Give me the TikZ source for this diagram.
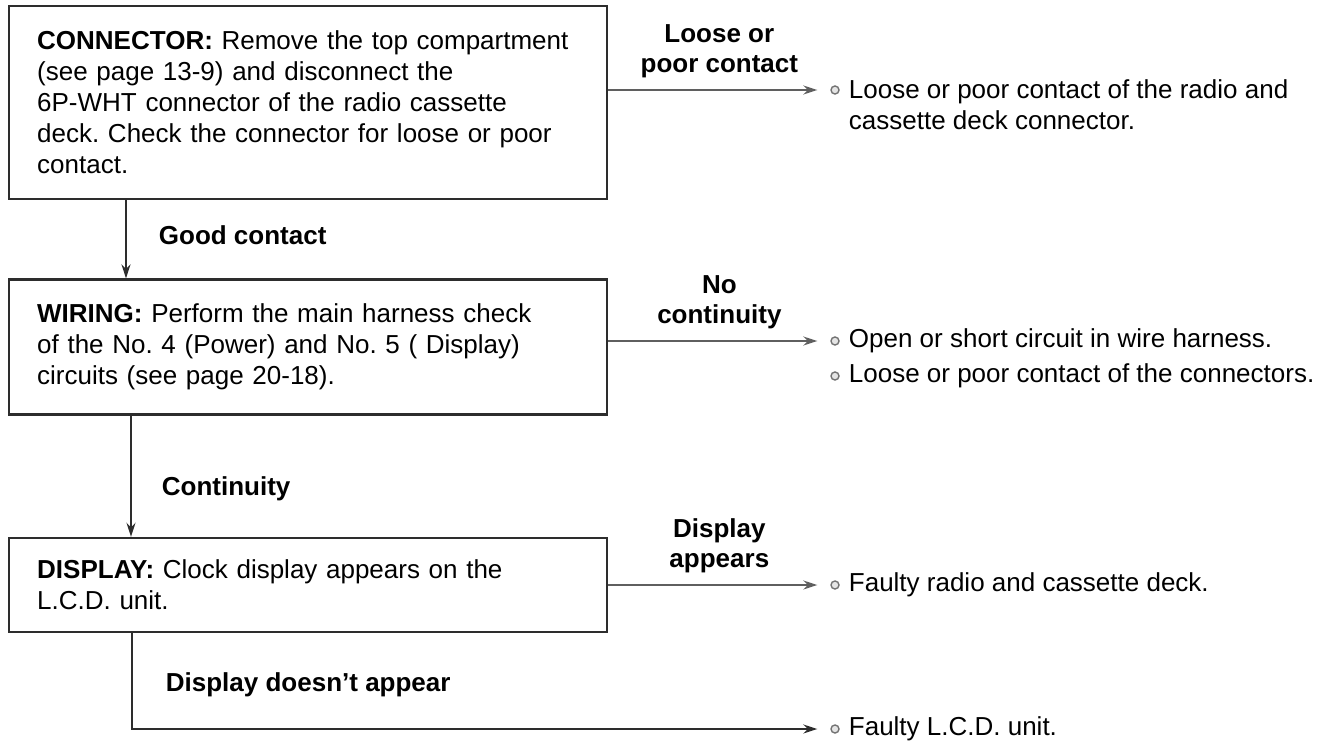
\documentclass[tikz,border=0pt]{standalone}
\usepackage{fontspec}
\setmainfont{Liberation Sans}
\usepackage{tikz}
\usetikzlibrary{arrows.meta, positioning}
\definecolor{inkgray}{RGB}{45,45,45}
\definecolor{wiregray}{RGB}{95,95,95}
\tikzset{
  chk/.style={draw=inkgray, line width=2.4pt, minimum width=598pt, text width=542pt, inner xsep=28pt, inner ysep=0pt, align=left},
  flow/.style={-{Stealth[length=14pt, width=9pt]}, line width=1.8pt, draw=inkgray},
  side/.style={flow, draw=wiregray, shorten >=13pt},
  dot/.style={circle, draw=black!55, fill=black!10, line width=1.4pt, inner sep=0pt, minimum size=8pt},
  lbl/.style={font=\fontsize{26}{30}\selectfont\bfseries, inner sep=0pt, align=center},
  res/.style={inner sep=0pt, align=left, anchor=west}
}

\begin{document}
\frenchspacing
\begin{tikzpicture}[x=1pt, y=1pt, font=\fontsize{26}{31}\selectfont]
\useasboundingbox (0,0) rectangle (1325,-741);
\node[chk, minimum height=193pt, anchor=north west] (conn) at (8,-5) {\textbf{CONNECTOR:} Remove the top compartment\\(see page 13-9) and disconnect the\\6P-WHT connector of the radio cassette\\deck. Check the connector for loose or poor\\contact.};
\node[chk, minimum height=135pt, below=78pt of conn] (wiring) {\textbf{WIRING:} Perform the main harness check\\of the No. 4 (Power) and No. 5 ( Display)\\circuits (see page 20-18).};
\node[chk, minimum height=94pt, below=121pt of wiring] (disp) {\textbf{DISPLAY:} Clock display appears on the\\L.C.D. unit.};

\node[dot] (d1) at (835,-90) {};
\node[dot] (d2) at (835,-341) {};
\node[dot] (d3) at (835,-376) {};
\node[dot] (d4) at (835,-585) {};
\node[dot] (d5) at (835,-729) {};
\node[res, right=9pt of d1, yshift=-15pt] (r1) {Loose or poor contact of the radio and\\cassette deck connector.};
\node[res, right=9pt of d2] (r2) {Open or short circuit in wire harness.};
\node[res, right=9pt of d3] (r3) {Loose or poor contact of the connectors.};
\node[res, right=9pt of d4] (r4) {Faulty radio and cassette deck.};
\node[res, right=9pt of d5] (r5) {Faulty L.C.D. unit.};

\draw[side] (conn.east |- d1) -- node[lbl, midway, above=11pt] {Loose or\\poor contact} (d1);
\draw[side] (wiring.east |- d2) -- node[lbl, midway, above=11pt] {No\\continuity} (d2);
\draw[side] (disp.east |- d4) -- node[lbl, midway, above=11pt] {Display\\appears} (d4);

\draw[flow] ([xshift=118pt]conn.south west) -- node[lbl, pos=0.45, right=32pt] {Good contact} ([xshift=118pt]wiring.north west);
\draw[flow] ([xshift=123pt]wiring.south west) -- node[lbl, pos=0.6, right=30pt] {Continuity} ([xshift=123pt]disp.north west);
\draw[side, draw=inkgray] ([xshift=124pt]disp.south west) |- node[lbl, pos=0.27, right=33pt] {Display doesn't appear} (d5);
\end{tikzpicture}
\end{document}
